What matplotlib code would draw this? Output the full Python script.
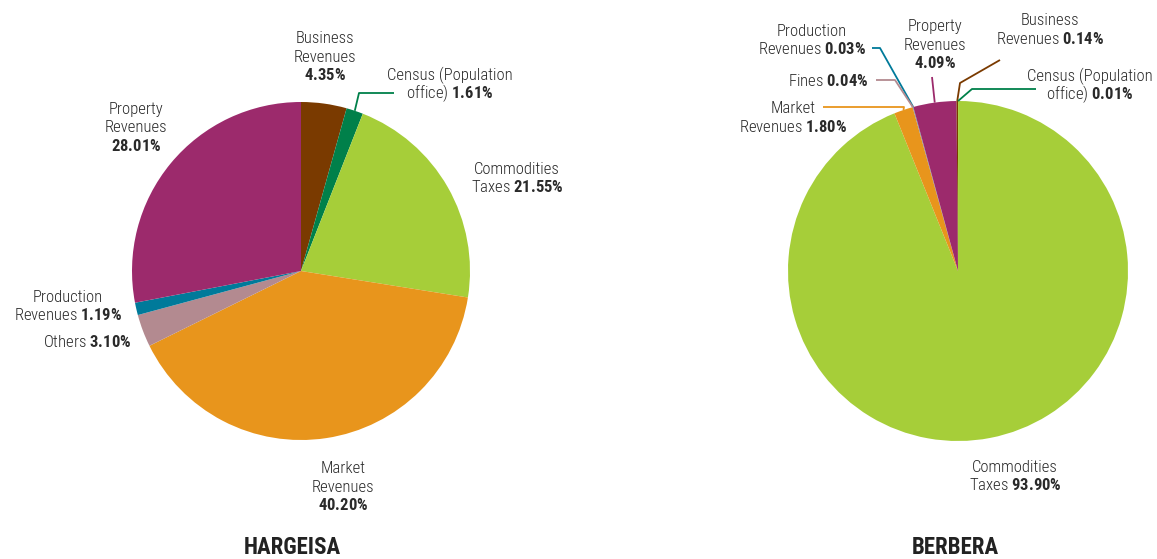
import numpy as np
import matplotlib.pyplot as plt

plt.rcParams['font.family'] = ['Roboto Condensed', 'DejaVu Sans']
plt.rcParams['mathtext.fontset'] = 'custom'
plt.rcParams['mathtext.bf'] = 'Roboto Condensed:bold'
plt.rcParams['mathtext.rm'] = 'Roboto Condensed:light'

W, H = 1157, 559

# Hargeisa (clockwise from 12 o'clock)
harg_labels = ['Business Revenues', 'Census (Population office)', 'Commodities Taxes',
               'Market Revenues', 'Others', 'Production Revenues', 'Property Revenues']
harg_values = [4.35, 1.61, 21.55, 40.20, 3.10, 1.19, 28.01]

# Berbera (clockwise from 12 o'clock)
berb_labels = ['Census (Population office)', 'Commodities Taxes', 'Market Revenues',
               'Fines', 'Production Revenues', 'Property Revenues', 'Business Revenues']
berb_values = [0.01, 93.90, 1.80, 0.04, 0.03, 4.09, 0.14]

colors = {
    'Business Revenues': '#7a3a00',
    'Census (Population office)': '#00804a',
    'Commodities Taxes': '#a6ce39',
    'Market Revenues': '#e8951c',
    'Others': '#b38a90',
    'Fines': '#b38a90',
    'Production Revenues': '#007a9a',
    'Property Revenues': '#9c2a6c',
}

fig = plt.figure(figsize=(W / 100, H / 100), dpi=100)
ax = fig.add_axes([0, 0, 1, 1])


def py(y):
    return H - y


def draw_pie(labels, values, cx, cy, r):
    wedges, _ = ax.pie(values, colors=[colors[l] for l in labels], startangle=90,
                       counterclock=False, center=(cx, py(cy)), radius=r,
                       wedgeprops=dict(linewidth=0), frame=True)
    pts = {}
    for lab, w in zip(labels, wedges):
        a = np.deg2rad((w.theta1 + w.theta2) / 2)
        pts[lab] = (cx + r * np.cos(a), py(cy) + r * np.sin(a))
    return pts


def label(x, y0, lines, ha='center', step=18.5):
    # one text per line so that mixed bold lines keep an even spacing
    for i, s in enumerate(lines):
        ax.text(x, py(y0 + i * step + 6), s, ha=ha, va='baseline', fontsize=12,
                color='#2a2a2a', fontweight='light')


def leader(pts, lab, path):
    xs = [p[0] for p in path] + [pts[lab][0]]
    ys = [py(p[1]) for p in path] + [pts[lab][1]]
    ax.plot(xs, ys, color=colors[lab], lw=1.3, solid_capstyle='butt')


# ---- Hargeisa ----
hp = draw_pie(harg_labels, harg_values, 301, 271, 169)
label(325, 37, ['Business', 'Revenues', '$\\bf{4.35\\%}$'])
label(450, 74, ['Census (Population', 'office) $\\bf{1.61\\%}$'])
leader(hp, 'Census (Population office)', [(394, 93), (359, 93)])
label(517, 168, ['Commodities', 'Taxes $\\bf{21.55\\%}$'])
label(343, 467, ['Market', 'Revenues', '$\\bf{40.20\\%}$'])
label(131, 341, ['Others $\\bf{3.10\\%}$'], ha='right')
label(68, 296, ['Production', 'Revenues $\\bf{1.19\\%}$'])
label(136, 108, ['Property', 'Revenues', '$\\bf{28.01\\%}$'])
ax.text(292, py(548), 'HARGEISA', ha='center', va='center', fontsize=16.5,
        fontweight='bold', color='#222222')

# ---- Berbera ----
bp = draw_pie(berb_labels, berb_values, 958, 271, 170)
label(812, 30, ['Production', 'Revenues $\\bf{0.03\\%}$'])
leader(bp, 'Production Revenues', [(872, 48), (880, 48)])
label(868, 80, ['Fines $\\bf{0.04\\%}$'], ha='right')
leader(bp, 'Fines', [(876, 80), (895, 80)])
label(793, 107, ['Market', 'Revenues $\\bf{1.80\\%}$'])
leader(bp, 'Market Revenues', [(823, 107), (904, 107)])
label(935, 25, ['Property', 'Revenues', '$\\bf{4.09\\%}$'])
leader(bp, 'Property Revenues', [(932, 77)])
label(1050, 19, ['Business', 'Revenues $\\bf{0.14\\%}$'])
leader(bp, 'Business Revenues', [(1000, 60), (960, 83), (958, 96)])
label(1090, 75, ['Census (Population', 'office) $\\bf{0.01\\%}$'])
leader(bp, 'Census (Population office)', [(1036, 89), (972, 89)])
label(1015, 466, ['Commodities', 'Taxes $\\bf{93.90\\%}$'])
ax.text(955, py(548), 'BERBERA', ha='center', va='center', fontsize=16.5,
        fontweight='bold', color='#222222')

ax.set_xlim(0, W)
ax.set_ylim(0, H)
ax.set_aspect('equal')
ax.axis('off')
fig.savefig('out.png', dpi=100)
